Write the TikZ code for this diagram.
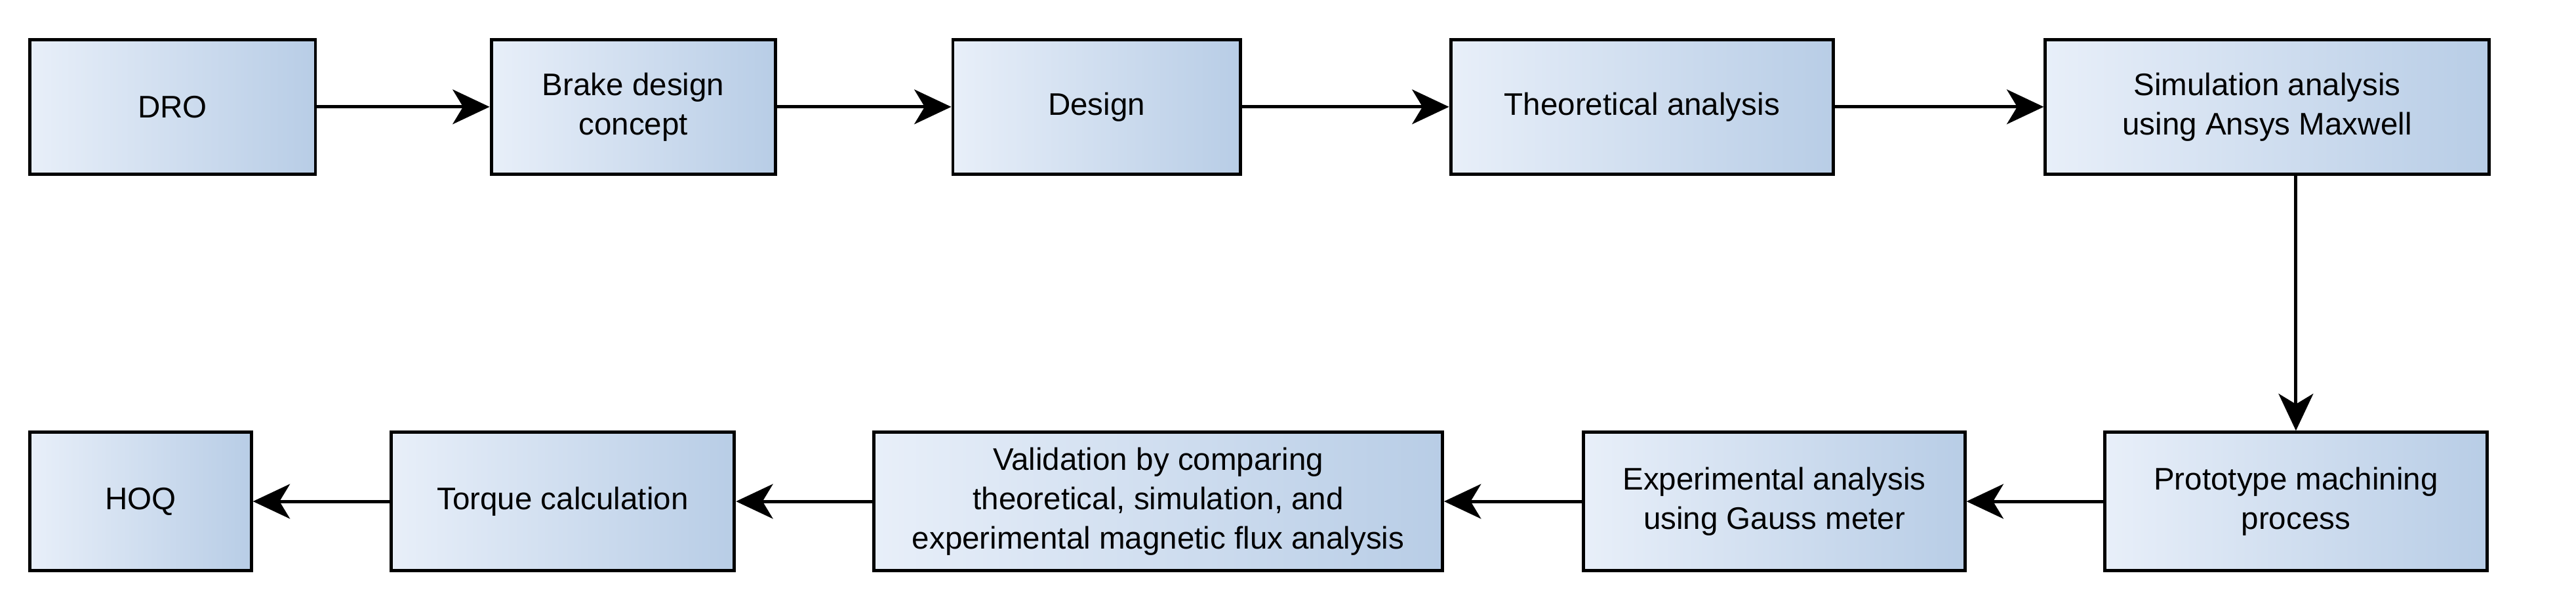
\documentclass[tikz,border=0pt]{standalone}
\usepackage{fontspec}
\setmainfont{Liberation Sans}
\usetikzlibrary{arrows.meta}
\begin{document}
\begin{tikzpicture}[x=0.05cm,y=-0.05cm,
 box/.style={draw=black,line width=2.8pt,left color={rgb,255:red,232;green,239;blue,249},right color={rgb,255:red,184;green,205;blue,230},align=center,font=\fontsize{27}{34}\selectfont},
 arr/.style={-{Stealth[length=32pt,width=30pt,inset=9pt]},line width=2.8pt}]
\useasboundingbox (0,0) rectangle (1568,369.2);
\def\bx#1#2#3#4#5#6{\node[box,minimum width={(#3-#2)*0.05cm},minimum height={(#5-#4)*0.05cm}] (#1) at ({(#2+#3)/2},{(#4+#5)/2}) {#6};}
\bx{dro}{18}{192}{24}{106}{DRO}
\bx{brake}{299}{472}{24}{106}{Brake design\\concept}
\bx{design}{580}{755}{24}{106}{Design}
\bx{theo}{883}{1116}{24}{106}{Theoretical analysis}
\bx{sim}{1245}{1515}{24}{106}{Simulation analysis\\using Ansys Maxwell}
\bx{proto}{1281}{1514}{263}{347}{Prototype machining\\process}
\bx{exp}{964}{1196}{263}{347}{Experimental analysis\\using Gauss meter}
\bx{val}{532}{878}{263}{347}{Validation by comparing\\theoretical, simulation, and\\experimental magnetic flux analysis}
\bx{torque}{238}{447}{263}{347}{Torque calculation}
\bx{hoq}{18}{153}{263}{347}{HOQ}
\draw[arr] (dro) -- (brake);
\draw[arr] (brake) -- (design);
\draw[arr] (design) -- (theo);
\draw[arr] (theo) -- (sim);
\draw[arr] (sim.south -| proto.north) -- (proto.north);
\draw[arr] (proto) -- (exp);
\draw[arr] (exp) -- (val);
\draw[arr] (val) -- (torque);
\draw[arr] (torque) -- (hoq);
\end{tikzpicture}
\end{document}
